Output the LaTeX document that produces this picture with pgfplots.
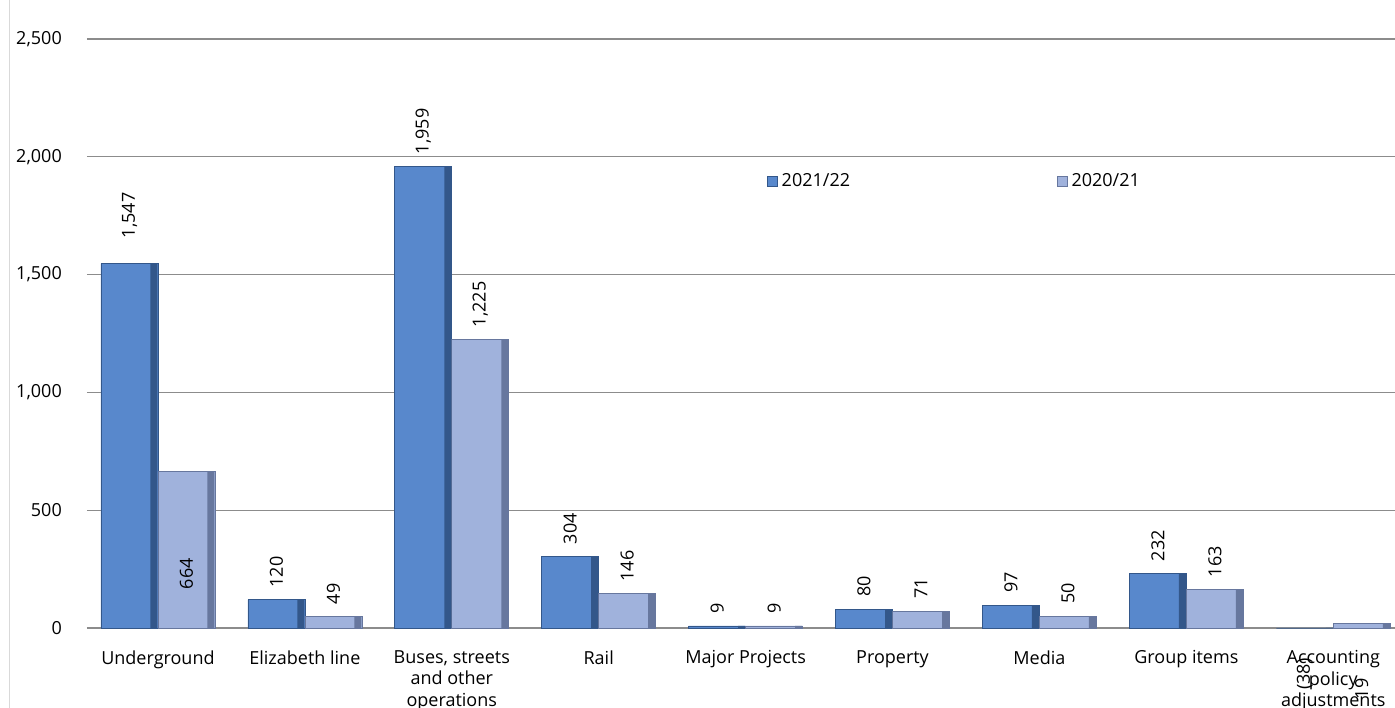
\documentclass[border=0pt]{standalone}
\usepackage{pgfplots}
\pgfplotsset{compat=1.18}
\usepackage{pgfplotstable}
\usepackage{fontspec}
\setmainfont{Open Sans}

\definecolor{aface}{HTML}{5888CC}
\definecolor{adark}{HTML}{33578A}
\definecolor{bface}{HTML}{A0B2DC}
\definecolor{bdark}{HTML}{67779E}
\definecolor{gridc}{HTML}{8C8C8C}

% x, 2021/22 value, label, label offset (pt), 2020/21 value, label, offset
\pgfplotstableread{
x a    la      oa   b    lb      ob
0 1547 {1,547} 25   664  664     -118
1 120  120     12   49   49      12
2 1959 {1,959} 12   1225 {1,225} 12
3 304  304     12   146  146     12
4 9    9       12   9    9       12
5 80   80      12   71   71      12
6 97   97      12   50   50      12
7 232  232     12   163  163     12
8 -38  (38)    -62  19   19      -76
}\data

\begin{document}
\fontsize{18}{21.5}\selectfont
\begin{tikzpicture}
\begin{axis}[
    at={(0,0)}, anchor=south west,
    scale only axis, width=1308pt, height=589pt,
    xmin=-0.483, xmax=8.42, ymin=0, ymax=2500,
    ybar=0pt, bar width=57pt,
    clip=false,
    axis line style={draw=none},
    tick style={draw=none},
    ymajorgrids, major grid style={gridc, line width=1.2pt},
    ytick={0,500,...,2500},
    /pgf/number format/1000 sep={,},
    /pgf/number format/assume math mode=true,
    yticklabel style={anchor=east, inner sep=0pt, xshift=-25pt},
    xtick={0,...,8},
    xticklabels={Underground, Elizabeth line, {Buses, streets\\and other\\operations}, Rail, Major Projects, Property, Media, Group items, {Accounting\\policy\\adjustments}},
    xticklabel style={align=center, anchor=north, inner sep=0pt, yshift=-18pt},
    legend style={at={(0.520,0.759)}, anchor=west, draw=none, fill=none,
        inner sep=0pt, nodes={inner sep=4pt}},
    legend columns=2,
    /tikz/every even column/.append style={column sep=203pt},
    legend cell align=left,
    legend image code/.code={\draw[#1, line width=0.4pt] (0pt,-5pt) rectangle (10pt,5pt);},
    point meta=explicit symbolic,
]
% 2021/22 bars (the axis starts at 0, so the negative bar is cut at the base)
\addplot[bar shift=-28.5pt,
    draw=adark, line width=0.6pt, fill=aface,
    y filter/.expression={max(y,0)},
    nodes near coords,
    visualization depends on={\thisrow{oa} \as \off},
    nodes near coords style={text=black, yshift=\off pt, rotate=90, anchor=west, inner sep=0pt}]
    table[x=x, y=a, meta=la] {\data};
\addlegendentry{2021/22}
% 2020/21 bars
\addplot[bar shift=28.5pt,
    draw=bdark, line width=0.6pt, fill=bface,
    nodes near coords,
    visualization depends on={\thisrow{ob} \as \off},
    nodes near coords style={text=black, yshift=\off pt, rotate=90, anchor=west, inner sep=0pt}]
    table[x=x, y=b, meta=lb] {\data};
\addlegendentry{2020/21}
% darker right edges of the bars
\addplot[bar width=7pt, bar shift=-4pt, draw=none, fill=adark, forget plot,
    y filter/.expression={max(y,0)}]
    table[x=x, y=a] {\data};
\addplot[bar width=7pt, bar shift=53pt, draw=none, fill=bdark, forget plot]
    table[x=x, y=b] {\data};
\end{axis}
\draw[black!15, line width=1pt] (-77pt,-80pt) -- (-77pt,628pt);
\pgfresetboundingbox
\path[use as bounding box] (-87pt,-80pt) rectangle (1308pt,628pt);
\end{tikzpicture}
\end{document}
